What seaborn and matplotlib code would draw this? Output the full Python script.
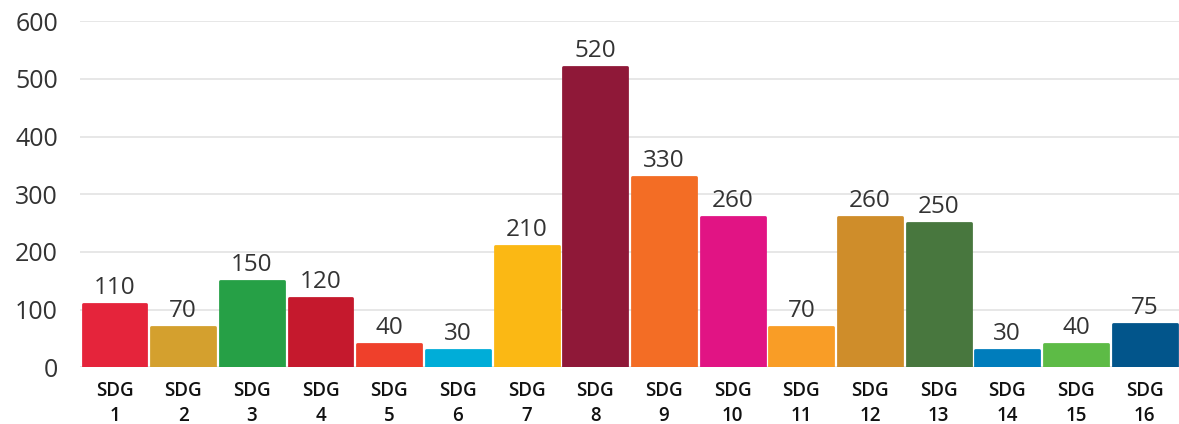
import numpy as np
import pandas as pd
import matplotlib
matplotlib.use('Agg')
import matplotlib.pyplot as plt
import seaborn as sns

# data
goals = [f'SDG\n{i}' for i in range(1, 17)]
counts = [110, 70, 150, 120, 40, 30, 210, 520, 330, 260, 70, 260, 250, 30, 40, 75]
sdg_colors = ['#E5243B', '#D4A02E', '#26A046', '#C5192D', '#EF402B', '#00ADD8',
              '#FBB814', '#8F1838', '#F36D25', '#E11484', '#F99D26', '#CF8D2A',
              '#48773E', '#007DBC', '#5DBB46', '#02558B']
y_ticks = [0, 100, 200, 300, 400, 500, 600]

sns.set_style('white')
plt.rcParams['font.family'] = ['Open Sans', 'DejaVu Sans']

df = pd.DataFrame({'goal': goals, 'count': counts})

fig = plt.figure(figsize=(11.79, 4.24), dpi=100)
ax = fig.add_axes([0.068, 0.134, 0.932, 0.816])

sns.barplot(data=df, x='goal', y='count', hue='goal', palette=sdg_colors,
            saturation=1, legend=False, width=0.93, ax=ax, zorder=2)

# rounded look: stroke each bar in its own colour with round joins
for bar, c in zip(ax.patches, sdg_colors):
    bar.set_edgecolor(c)
    bar.set_linewidth(2)
    bar.set_joinstyle('round')

for i, v in enumerate(counts):
    ax.text(i, v + 7, str(v), ha='center', va='bottom', fontsize=17.5, color='#333333')

ax.set_ylim(0, 600)
ax.set_xlim(-0.5, len(goals) - 0.5)
ax.set_yticks(y_ticks)
ax.yaxis.grid(True, color='#e3e3e3', linewidth=1.2, zorder=0)
ax.set_axisbelow(True)
ax.tick_params(axis='y', length=0, pad=16, labelsize=18, labelcolor='#333333')
ax.tick_params(axis='x', length=0, pad=10)
for lab in ax.get_xticklabels():
    lab.set_fontsize(13.5)
    lab.set_fontweight('semibold')
    lab.set_color('#111111')
    lab.set_linespacing(1.3)
ax.set_xlabel('')
ax.set_ylabel('')
sns.despine(ax=ax, left=True, bottom=True)

fig.savefig('out.png', dpi=100)
